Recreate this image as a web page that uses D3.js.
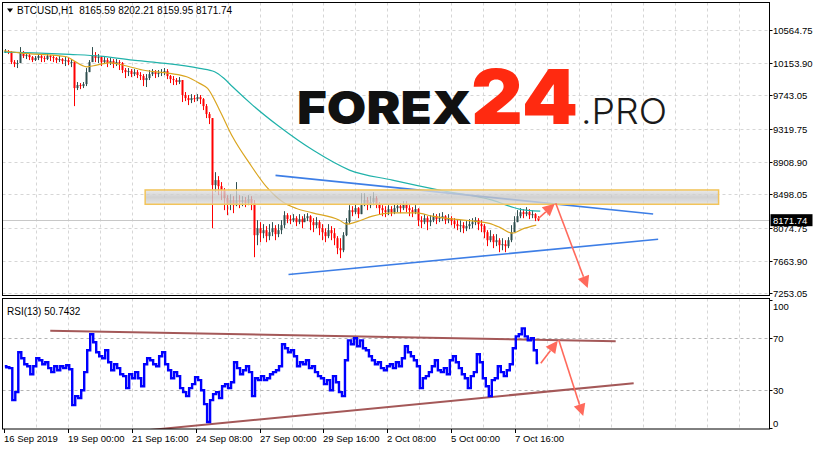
<!DOCTYPE html>
<html><head><meta charset="utf-8">
<script src="https://cdn.jsdelivr.net/npm/d3@7"></script>
<style>html,body{margin:0;padding:0;background:#fff;} svg{display:block;}</style>
</head><body><svg id="c" width="815" height="450"></svg>
<script>
// ---------------- DATA ----------------
const symbol = "BTCUSD,H1";
const headerOHLC = ["8165.59", "8202.21", "8159.95", "8171.74"];
const startTime = new Date(2019, 8, 16, 8, 0);
const barHours = 3;
const firstOpen = 10290;
const closes = [10300,10287,10161,10136,10149,10287,10237,10249,10224,10186,10212,10237,10212,10199,10237,10224,10212,10186,10199,10174,
10186,10161,10161,9834,9872,9859,9884,10035,10161,10249,10212,10224,10161,10186,10149,10174,10136,10161,10149,10061,
10035,10048,10010,10035,9998,9985,9935,9960,10010,10035,10010,10023,10035,10048,9985,9947,9935,9910,9935,9746,
9708,9683,9708,9695,9721,9695,9607,9507,9456,8613,8676,8600,8550,8449,8374,8424,8361,8424,8399,8424,
8386,8437,8386,7983,8071,8008,8046,7971,8021,8071,7996,8046,8109,8235,8185,8172,8197,8147,8185,8147,
8197,8222,8147,8109,8147,8071,8021,7971,8046,8008,7945,7820,7794,7983,8147,8298,8273,8323,8248,8361,
8424,8361,8399,8449,8374,8323,8298,8273,8311,8273,8323,8348,8323,8374,8323,8298,8273,8311,8172,8147,
8197,8147,8172,8222,8185,8197,8222,8172,8197,8160,8122,8097,8109,8071,8097,8122,8147,8172,8122,8097,
8021,7920,7971,7895,7920,7857,7870,7845,7920,8021,8147,8222,8273,8248,8273,8235,8248,8197,8172];
const highs = [10325,10312,10300,10186,10186,10350,10300,10275,10262,10237,10237,10262,10249,10237,10262,10249,10249,10224,10237,10212,
10224,10212,10199,10174,9910,9897,9910,10086,10186,10350,10287,10262,10237,10224,10212,10212,10199,10199,10186,10161,
10086,10086,10073,10073,10061,10035,10010,10010,10061,10073,10061,10061,10073,10086,10073,9998,9985,9960,9972,9935,
9784,9746,9758,9746,9758,9746,9708,9633,9532,9456,8776,8726,8651,8575,8487,8499,8474,8651,8487,8474,
8462,8487,8474,8424,8172,8147,8122,8097,8122,8147,8109,8122,8172,8285,8260,8235,8248,8222,8248,8222,
8248,8260,8235,8197,8210,8172,8122,8071,8122,8097,8071,7971,7945,8021,8197,8361,8348,8374,8336,8512,
8512,8462,8474,8525,8474,8399,8361,8348,8361,8348,8374,8386,8386,8411,8411,8361,8336,8361,8323,8222,
8248,8222,8235,8260,8248,8260,8273,8235,8248,8222,8197,8172,8172,8147,8160,8185,8197,8210,8197,8172,
8122,8046,8046,7996,7996,7945,7945,7920,7958,8109,8222,8298,8323,8311,8336,8311,8298,8260,8222];
const lows = [10275,10262,10136,10098,10086,10149,10212,10199,10186,10161,10174,10186,10161,10161,10186,10174,10161,10149,10161,10136,
10111,10124,10098,9607,9809,9821,9834,9859,10035,10161,10161,10149,10111,10136,10098,10124,10086,10111,10061,10023,
9960,9985,9972,9985,9960,9935,9859,9847,9935,9985,9960,9972,9985,9998,9947,9897,9872,9872,9884,9658,
9670,9620,9645,9658,9670,9633,9557,9456,9381,8071,8525,8487,8424,8298,8235,8298,8260,8348,8323,8348,
8336,8361,8298,7706,7857,7895,7945,7895,7920,7971,7920,7958,7996,8071,8134,8122,8147,8097,8122,8071,
8147,8160,8046,8021,8071,7983,7920,7895,7945,7920,7857,7744,7694,7769,7971,8122,8222,8248,8197,8273,
8348,8298,8323,8361,8323,8248,8222,8210,8235,8222,8248,8273,8260,8298,8273,8222,8210,8248,8097,8071,
8122,8046,8097,8147,8122,8147,8160,8122,8134,8109,8071,8046,8021,8008,8034,8059,8071,8109,8046,8021,
7945,7845,7895,7820,7845,7769,7794,7769,7820,7895,8021,8147,8197,8197,8222,8185,8197,8160,8160];
// moving averages: [hours from start, price]
const maSlow = [[0,10287],[36,10275],[66,10258],[96,10237],[129,10186],[156,10152],[196,10082],[211,10039],[220,9960],[229,9850],[249,9620],[276,9347],[311,9041],[346,8802],[389,8676],[436,8550],[489,8424],[516,8311],[537,8285]];
const maFast = [[0,10304],[16,10278],[63,10228],[69,10186],[83,10102],[93,10123],[106,10152],[119,10124],[139,10061],[166,10019],[183,9976],[196,9893],[204,9830],[216,9556],[229,9221],[246,8886],[263,8591],[279,8403],[293,8319],[309,8264],[336,8172],[343,8122],[353,8151],[369,8222],[389,8264],[413,8264],[429,8222],[453,8181],[469,8163],[486,8131],[496,8084],[509,8008],[519,8059],[533,8109]];
const rsiValues = [48.2,47.4,46.7,21.9,28.1,59.0,54.4,49.7,48.2,42.0,48.2,54.4,52.8,49.7,51.3,46.7,43.6,48.2,45.1,48.2,
46.7,49.0,45.9,18.0,25.0,23.4,29.6,43.6,60.6,73.0,66.8,59.0,55.9,54.4,60.6,51.3,45.1,49.7,46.7,42.0,
40.5,31.2,42.0,38.9,43.6,38.9,32.7,49.7,54.4,52.8,49.7,48.2,55.9,59.0,49.7,45.1,38.9,43.6,40.5,31.2,
28.1,25.0,31.2,34.3,39.7,37.4,29.6,18.8,4.9,21.9,26.5,28.1,23.4,32.7,34.3,31.2,35.8,51.3,46.7,42.0,
45.1,48.2,43.6,25.0,38.9,37.4,40.5,37.4,38.9,42.0,43.6,45.1,48.2,65.2,62.1,59.0,60.6,55.9,48.2,51.3,
49.7,52.8,46.7,48.2,43.6,40.5,38.9,34.3,37.4,29.6,40.5,35.8,28.1,25.0,52.8,68.3,65.2,69.9,63.7,68.3,
62.1,60.6,55.9,52.8,49.7,51.3,46.7,45.1,48.2,49.7,46.7,51.3,48.2,54.4,63.7,59.0,55.9,52.8,48.2,31.2,
38.9,40.5,43.6,48.2,52.8,45.1,43.6,46.7,42.0,52.8,55.9,51.3,46.7,42.0,38.9,31.2,40.5,43.6,57.5,51.3,
38.9,32.7,25.0,37.4,38.9,48.2,43.6,40.5,45.1,49.7,62.1,71.4,73.0,77.6,71.4,68.3,69.9,60.6,50.7];
const rsiTitle = "RSI(13) 50.7432";
const priceTicks = [10564.75, 10153.90, 9743.05, 9319.75, 8908.90, 8498.05, 8074.75, 7663.90, 7253.05];
const priceDomain = [7253.05, 10564.75];
const lastPrice = 8171.74;
const rsiTicks = [100, 70, 30, 0];
const rsiLevels = [70, 30];
const timeTickHours = [0, 64, 128, 192, 256, 320, 384, 448, 512];
const timeTickLabels = ["16 Sep 2019", "19 Sep 00:00", "21 Sep 16:00", "24 Sep 08:00", "27 Sep 00:00", "29 Sep 16:00", "2 Oct 08:00", "5 Oct 00:00", "7 Oct 16:00"];
const totalHours = 765;
// annotations: [hours, value]
const zoneHours = [141.5, 715.5];
const zonePrices = [8372, 8552];
const upperTrend = [[272, 8736], [650, 8250]];
const lowerTrend = [[285, 7488], [655, 7931]];
const priceArrows = [[[534.5, 8187], [551.5, 8378]], [[552.5, 8385], [584.5, 7318]]];
const rsiUpperTrend = [[46.5, 75.8], [612.5, 67.5]];
const rsiLowerTrend = [[146.5, -1.3], [630.5, 35.0]];
const rsiArrows = [[[537.5, 50.5], [554.5, 67.9]], [[555.5, 68.5], [580, 9.5]]];
const logoParts = ["FOREX", "24", ".PRO"];

// ---------------- CHART ----------------
const svg = d3.select("#c");
const H = h => new Date(+startTime + h * 3600e3);
const L = 2.5, R = 769.5, mainTop = 2.5, mainBot = 295.5, rsiTop = 298.5, rsiBot = 429;
const x = d3.scaleTime().domain([startTime, H(totalHours)]).range([3.8, 3.8 + totalHours * 0.999]);
const y = d3.scaleLinear().domain(priceDomain).range([293.2, 30]);
const yr = d3.scaleLinear().domain([0, 100]).range([428.3, 299.5]);
const FONT = "'Liberation Sans', Arial, sans-serif";

const defs = svg.append("defs");
defs.append("clipPath").attr("id", "cm").append("rect").attr("x", L).attr("y", mainTop).attr("width", R - L).attr("height", mainBot - mainTop);
defs.append("clipPath").attr("id", "cr").append("rect").attr("x", L).attr("y", rsiTop).attr("width", R - L).attr("height", rsiBot - rsiTop);
const g1 = defs.append("linearGradient").attr("id", "zoneG").attr("x1", 0).attr("y1", 0).attr("x2", 0).attr("y2", 1);
g1.append("stop").attr("offset", 0).attr("stop-color", "#e4e4e4");
g1.append("stop").attr("offset", 0.5).attr("stop-color", "#c4c4c4");
g1.append("stop").attr("offset", 1).attr("stop-color", "#dedede");

svg.append("rect").attr("width", 815).attr("height", 450).attr("fill", "#fff");

// grid
const gridHours = d3.range(32, totalHours, 32);
const grid = svg.append("g").attr("stroke", "#d6d6d6").attr("stroke-dasharray", "3,3").attr("stroke-width", 1);
gridHours.forEach(h => {
  const gx = Math.round(x(H(h))) + 0.5;
  grid.append("line").attr("x1", gx).attr("x2", gx).attr("y1", mainTop).attr("y2", mainBot);
  grid.append("line").attr("x1", gx).attr("x2", gx).attr("y1", rsiTop).attr("y2", rsiBot);
});
priceTicks.forEach(p => {
  const gy = Math.round(y(p)) + 0.5;
  grid.append("line").attr("x1", L).attr("x2", R).attr("y1", gy).attr("y2", gy);
});
rsiLevels.forEach(v => {
  const gy = Math.round(yr(v)) + 0.5;
  svg.append("line").attr("x1", L).attr("x2", R).attr("y1", gy).attr("y2", gy)
    .attr("stroke", "#b4b4b4").attr("stroke-dasharray", "3,3");
});

// logo watermark
const logo = svg.append("g").attr("font-family", "Inter, Lato, 'Open Sans', sans-serif");
logo.append("text").attr("x", 297).attr("y", 124).attr("font-size", 45).attr("font-weight", 900)
  .attr("fill", "#111").attr("textLength", 175).attr("lengthAdjust", "spacingAndGlyphs").text(logoParts[0]);
logo.append("text").attr("x", 471).attr("y", 124).attr("font-size", 75).attr("font-weight", 900)
  .attr("fill", "#ff2a10").attr("textLength", 107).attr("lengthAdjust", "spacingAndGlyphs").text(logoParts[1]);
logo.append("text").attr("x", 581).attr("y", 124).attr("font-size", 36).attr("font-weight", 300)
  .attr("fill", "#1a1a1a").attr("textLength", 86).attr("lengthAdjust", "spacingAndGlyphs").text(logoParts[2]);

// main panel content
const main = svg.append("g").attr("clip-path", "url(#cm)");
const lpY = Math.round(y(lastPrice)) + 0.5;
main.append("line").attr("x1", L).attr("x2", R).attr("y1", lpY).attr("y2", lpY).attr("stroke", "#c8c8c8");

const bars = closes.map((c, i) => {
  const o = i === 0 ? firstOpen : closes[i - 1];
  return { t: H(i * barHours + 1), o, c, h: Math.max(highs[i], o, c), l: Math.min(lows[i], o, c) };
});
const cg = main.append("g");
bars.forEach(b => {
  const col = b.c >= b.o ? "#2f4f4f" : "#ff0000";
  const bx = Math.round(x(b.t));
  cg.append("line").attr("x1", bx + 0.5).attr("x2", bx + 0.5).attr("y1", y(b.h)).attr("y2", y(b.l)).attr("stroke", col);
  const top = y(Math.max(b.o, b.c)), bot = y(Math.min(b.o, b.c));
  cg.append("rect").attr("x", bx - 0.5).attr("y", top).attr("width", 2).attr("height", Math.max(1, bot - top)).attr("fill", col);
});

const line = d3.line().x(d => x(H(d[0]))).y(d => y(d[1])).curve(d3.curveMonotoneX);
main.append("path").attr("d", line(maSlow)).attr("fill", "none").attr("stroke", "#20b2aa").attr("stroke-width", 1.2);
main.append("path").attr("d", line(maFast)).attr("fill", "none").attr("stroke", "#daa520").attr("stroke-width", 1.2);

const straight = d3.line().x(d => x(H(d[0]))).y(d => y(d[1]));
[upperTrend, lowerTrend].forEach(tl => main.append("path").attr("d", straight(tl)).attr("fill", "none")
  .attr("stroke", "#3d7ee6").attr("stroke-width", 1.6));

main.append("rect").attr("x", x(H(zoneHours[0]))).attr("y", y(zonePrices[1]))
  .attr("width", x(H(zoneHours[1])) - x(H(zoneHours[0]))).attr("height", y(zonePrices[0]) - y(zonePrices[1]))
  .attr("fill", "url(#zoneG)").attr("fill-opacity", 0.78).attr("stroke", "#f2c45a").attr("stroke-width", 1.5);

function arrow(g, p0, p1, sx, sy) {
  const x0 = sx(p0[0]), y0 = sy(p0[1]), x1 = sx(p1[0]), y1 = sy(p1[1]);
  const dx = x1 - x0, dy = y1 - y0, len = Math.hypot(dx, dy), ux = dx / len, uy = dy / len;
  const hl = 12, hw = 6;
  const bx = x1 - ux * hl, by = y1 - uy * hl;
  g.append("line").attr("x1", x0).attr("y1", y0).attr("x2", bx).attr("y2", by)
    .attr("stroke", "#ff6a5c").attr("stroke-width", 1.6);
  g.append("path").attr("d", `M${x1},${y1}L${bx - uy * hw},${by + ux * hw}L${bx + uy * hw},${by - ux * hw}Z`)
    .attr("fill", "#ff6a5c");
}
priceArrows.forEach(a => arrow(main, a[0], a[1], h => x(H(h)), y));

// RSI panel content
const rsiG = svg.append("g").attr("clip-path", "url(#cr)");
const rl = d3.line().x(d => x(H(d[0]))).y(d => yr(d[1]));
[rsiUpperTrend, rsiLowerTrend].forEach(tl => rsiG.append("path").attr("d", rl(tl)).attr("fill", "none")
  .attr("stroke", "#a45858").attr("stroke-width", 2));
const rsiLine = d3.line().x((d, i) => x(H(i * barHours + 1))).y(d => yr(d)).curve(d3.curveStep);
rsiG.append("path").attr("d", rsiLine(rsiValues)).attr("fill", "none").attr("stroke", "#0000ff").attr("stroke-width", 2.4);
rsiArrows.forEach(a => arrow(rsiG, a[0], a[1], h => x(H(h)), yr));

// frames
const fr = svg.append("g").attr("fill", "none").attr("stroke", "#000").attr("stroke-width", 1);
fr.append("rect").attr("x", L).attr("y", mainTop).attr("width", R - L).attr("height", mainBot - mainTop);
fr.append("rect").attr("x", L).attr("y", rsiTop).attr("width", R - L).attr("height", rsiBot - rsiTop);

// right price axis
const ax = svg.append("g").attr("font-family", FONT).attr("font-size", 9.5).attr("fill", "#000");
priceTicks.forEach(p => {
  const ty = Math.round(y(p)) + 0.5;
  ax.append("line").attr("x1", R).attr("x2", R + 3).attr("y1", ty).attr("y2", ty).attr("stroke", "#000");
  ax.append("text").attr("x", 773).attr("y", ty).attr("dy", "0.35em").text(p.toFixed(2));
});
// current price tag
const tagY = y(lastPrice);
ax.append("rect").attr("x", 770.5).attr("y", tagY - 6).attr("width", 42).attr("height", 12).attr("fill", "#000");
ax.append("text").attr("x", 773).attr("y", tagY).attr("dy", "0.35em").attr("fill", "#fff").text(lastPrice.toFixed(2));

// right RSI axis
rsiTicks.forEach(v => {
  const ty = Math.round(yr(v)) + 0.5;
  ax.append("line").attr("x1", R).attr("x2", R + 3).attr("y1", ty).attr("y2", ty).attr("stroke", "#000");
  const t = ax.append("text").attr("x", 773).attr("y", ty).text(v);
  if (v === 100) t.attr("dy", "0.95em");
  else if (v === 0) t.attr("dy", "-0.2em");
  else t.attr("dy", "0.35em");
});

// time axis
timeTickHours.forEach((h, i) => {
  const tx = Math.round(x(H(h))) + 0.5;
  ax.append("line").attr("x1", tx).attr("x2", tx).attr("y1", rsiBot).attr("y2", rsiBot + 4).attr("stroke", "#000");
  ax.append("text").attr("x", tx - 0.5).attr("y", 441.5).text(timeTickLabels[i]);
});

// titles
svg.append("path").attr("d", "M7,8.5L13,8.5L10,12.5Z").attr("fill", "#000");
svg.append("text").attr("x", 17).attr("y", 14).attr("font-family", FONT).attr("font-size", 10)
  .text(symbol + "  " + headerOHLC.join(" ")).attr("xml:space", "preserve").style("white-space", "pre");
svg.append("text").attr("x", 7).attr("y", 315).attr("font-family", FONT).attr("font-size", 10).text(rsiTitle);
</script>
</body></html>
